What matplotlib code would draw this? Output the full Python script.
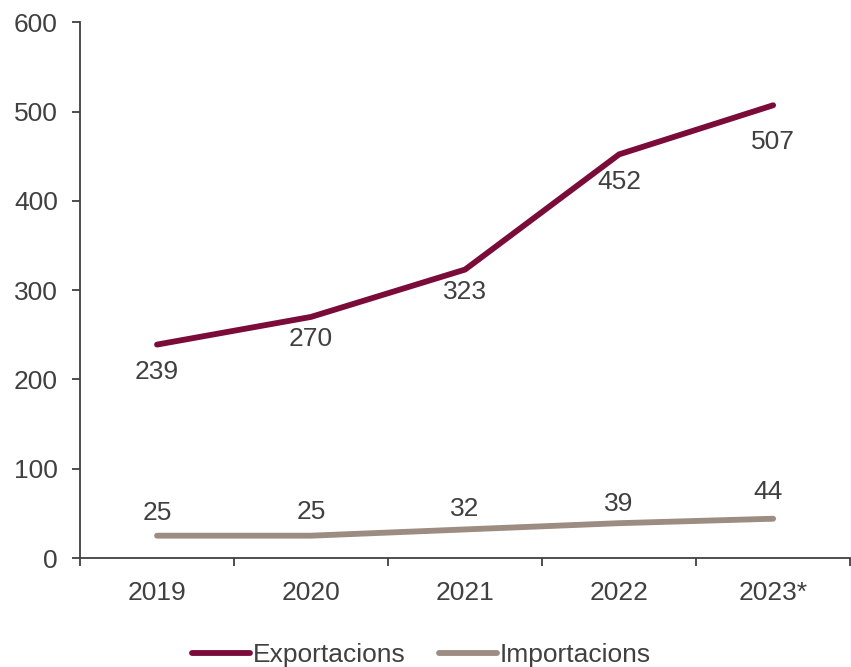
import numpy as np
import matplotlib.pyplot as plt

plt.rcParams['font.family'] = ['Liberation Sans', 'DejaVu Sans']

# data
years = ["2019", "2020", "2021", "2022", "2023*"]
exportacions = [239, 270, 323, 452, 507]
importacions = [25, 25, 32, 39, 44]

# label offsets (points) as placed in the original
exp_dy = [-19.7, -16.1, -16.1, -19.7, -26.2]
imp_dy = [16.1, 16.8, 14.7, 14.0, 19.0]
imp_dx = [0, 0, 0, 0, -4]

exp_color = "#7B0C3A"
imp_color = "#9C8C82"
txt_color = "#404040"
fs = 19

fig = plt.figure(figsize=(8.51, 6.67), dpi=100)
ax = fig.add_axes([0.094, 0.1634, 0.905, 0.8033])

x = np.arange(len(years))
ax.plot(x, exportacions, color=exp_color, linewidth=4.2, solid_capstyle="round", label="Exportacions")
ax.plot(x, importacions, color=imp_color, linewidth=4.2, solid_capstyle="round", label="Importacions")

for xi, v, dy in zip(x, exportacions, exp_dy):
    ax.annotate(str(v), (xi, v), xytext=(0, dy), textcoords="offset points",
                ha="center", va="center", fontsize=fs, color=txt_color)
for xi, v, dx, dy in zip(x, importacions, imp_dx, imp_dy):
    ax.annotate(str(v), (xi, v), xytext=(dx, dy), textcoords="offset points",
                ha="center", va="center", fontsize=fs, color=txt_color)

ax.set_xlim(-0.5, len(years) - 0.5)
ax.set_ylim(0, 600)
ax.set_yticks(range(0, 601, 100))
ax.set_xticks(x)
ax.set_xticklabels(years)
ax.set_xticks(np.arange(-0.5, len(years), 1), minor=True)
ax.tick_params(axis="x", which="major", length=0, pad=16.5, labelsize=fs, labelcolor=txt_color)
ax.tick_params(axis="x", which="minor", length=6, width=1.3, color=txt_color)
ax.tick_params(axis="y", length=6, width=1.3, color=txt_color, pad=10, labelsize=fs, labelcolor=txt_color)

for s in ["top", "right"]:
    ax.spines[s].set_visible(False)
for s in ["left", "bottom"]:
    ax.spines[s].set_color(txt_color)
    ax.spines[s].set_linewidth(1.3)

leg = fig.legend(loc="center", bbox_to_anchor=(0.495, 0.018), ncol=2, frameon=False,
                 fontsize=fs, handlelength=2.2, handletextpad=0.1, columnspacing=1.25)
for t in leg.get_texts():
    t.set_color(txt_color)

plt.savefig("out.png", dpi=100)
